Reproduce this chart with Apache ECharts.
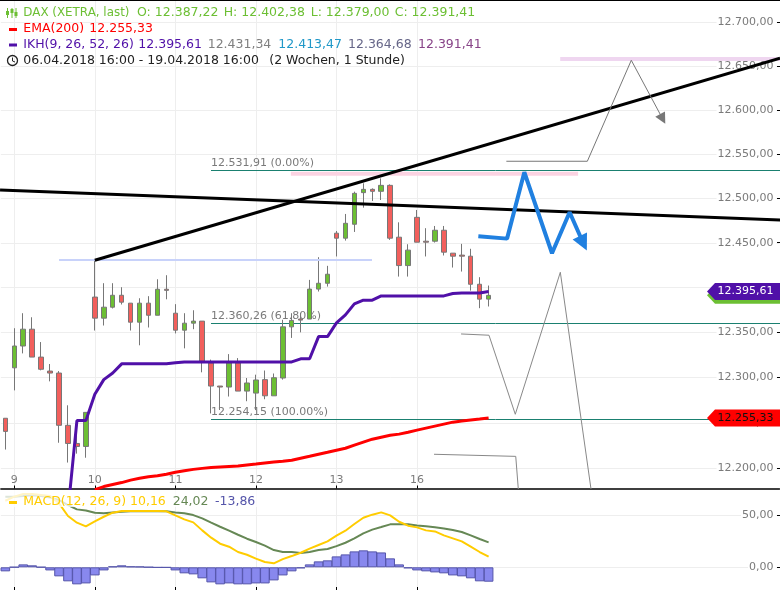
<!DOCTYPE html>
<html>
<head>
<meta charset="utf-8">
<style>html,body{margin:0;padding:0;background:#fff}#chart{width:780px;height:590px}</style>
<script src="https://cdn.jsdelivr.net/npm/echarts@6/dist/echarts.min.js"></script>
</head>
<body>
<div id="chart"></div>
<script>
// hourly slots, the axis runs on past the last candle
var slotCount = 87;
var dayLabels = ["9", "10", "11", "12", "13", "16"];
var dayStarts = [1, 10, 19, 28, 37, 46];
var priceTicks = [12200, 12250, 12300, 12350, 12400, 12450, 12500, 12550, 12600, 12650, 12700];
var macdTicks = [0, 50];

var opens = [12255, 12310.8, 12335, 12353.7, 12322.7, 12307.2, 12305, 12247.2, 12227.2, 12223.9, 12389.5, 12366, 12378.2, 12391.5, 12382.7, 12361.5, 12382.7, 12369.2, 12398.2, 12371.5, 12352.6, 12360.4, 12362.7, 12316.2, 12290.6, 12289.5, 12316.2, 12285, 12282.8, 12297.7, 12279.8, 12299.5, 12356.3, 12365, 12365, 12398.4, 12404.9, 12461, 12455.4, 12471, 12506.6, 12510.3, 12508.1, 12514.8, 12456.5, 12424.7, 12478.8, 12452, 12452, 12464.3, 12438.6, 12436.4, 12435.2, 12403.8, 12387.22];
var closes = [12240.5, 12335, 12353.7, 12322.7, 12309.2, 12305, 12247.2, 12227.2, 12223.9, 12261.5, 12366, 12378.2, 12391.5, 12383.8, 12361.5, 12382.7, 12369.2, 12398.2, 12397, 12352.6, 12360.4, 12362.7, 12318, 12290.6, 12289.5, 12316.2, 12285, 12294, 12297.3, 12279.8, 12299.8, 12356.3, 12363.5, 12363.8, 12398.4, 12404.9, 12415, 12455.4, 12472.1, 12505.8, 12510.3, 12508.1, 12514.8, 12455.4, 12424.7, 12442, 12450.9, 12450.9, 12464.3, 12439.7, 12435.2, 12435.2, 12403.8, 12387.2, 12391.41];
var lows = [12220.5, 12285.8, 12326.8, 12322.7, 12308, 12295.8, 12228, 12206.2, 12216, 12211.5, 12352.2, 12357.8, 12376.8, 12381.2, 12352.2, 12335.8, 12355.6, 12369.2, 12387, 12349, 12332.4, 12353.7, 12305.8, 12260.3, 12264.1, 12279, 12285, 12273.8, 12264, 12276, 12279.8, 12297.7, 12344, 12350.2, 12365, 12395.7, 12401.2, 12434.9, 12452.7, 12462.4, 12489.7, 12497.2, 12498.3, 12453.5, 12412.4, 12412.4, 12450.9, 12434.9, 12450.5, 12436, 12422.5, 12418, 12396.7, 12377.1, 12379];
var highs = [12255, 12354.8, 12371.5, 12367, 12339.4, 12315, 12307.2, 12269.3, 12253, 12261.5, 12431, 12405, 12405, 12400.5, 12382.7, 12388.2, 12390.5, 12409.4, 12413.9, 12381.6, 12371.5, 12374.8, 12362.7, 12319.9, 12290.6, 12326, 12321.6, 12299.5, 12303.2, 12307.8, 12304.5, 12364.2, 12371.5, 12371.5, 12408.7, 12434.1, 12424.4, 12463.5, 12482.6, 12507.7, 12517.1, 12511.4, 12522.7, 12515.9, 12473.2, 12448.6, 12487.1, 12466.6, 12469.1, 12469.1, 12438.6, 12449, 12443.5, 12411.7, 12402.38];

var ikh = [null, null, null, null, null, null, null, 12153, 12252.4, 12252.4, 12281.6, 12297.7, 12305, 12315.2, 12315.2, 12315.2, 12315.2, 12315.2, 12315.2, 12316.3, 12317.3, 12317.3, 12317.3, 12317.3, 12317.3, 12317.3, 12317.3, 12317.3, 12317.3, 12317.3, 12317.3, 12317.3, 12317.3, 12320.8, 12320.8, 12345.5, 12345.5, 12360.7, 12369.6, 12381.9, 12386, 12386, 12390.8, 12390.8, 12390.8, 12390.8, 12390.8, 12390.8, 12390.8, 12390.8, 12393.5, 12394.1, 12394.1, 12394.1, 12395.61];
var ema = [null, null, null, null, null, null, null, null, null, null, 12176.5, 12179.8, 12182, 12184.2, 12186.9, 12189, 12190.6, 12191.7, 12193.4, 12195.5, 12197.1, 12198.7, 12199.8, 12200.8, 12201.4, 12201.9, 12202.4, 12203.5, 12204.5, 12205.6, 12206.7, 12207.7, 12208.8, 12211, 12213.1, 12215.4, 12217.5, 12219.8, 12221.9, 12225.3, 12228.6, 12231.9, 12234.1, 12236.3, 12237.5, 12239.6, 12241.9, 12244.1, 12246.3, 12248.5, 12250.7, 12251.9, 12253, 12254.1, 12255.33];

var macd = [64, 67.9, 70.4, 70.4, 69.5, 68.5, 61.5, 49.3, 42.9, 39.3, 44.2, 48.6, 52.5, 54.1, 54.1, 54.1, 54.1, 54.1, 53.8, 49.9, 46.1, 43.2, 35.5, 28.5, 22.7, 19.8, 14.7, 12.1, 8.3, 5.1, 3.8, 7.9, 10.8, 14, 17.9, 21.4, 24.9, 30.4, 35.2, 41.6, 47.7, 50.6, 52.8, 49.9, 43.8, 40, 38.4, 35.5, 34.5, 30.7, 27.8, 24.9, 19.8, 14.7, 10.16];
var signal = [67.9, 67.9, 68.5, 69.2, 68.5, 67.2, 64.7, 59.9, 55.7, 54.7, 52.5, 51.9, 52.8, 53.5, 53.8, 53.8, 53.8, 53.8, 53.8, 52.8, 51.9, 50.2, 47, 42.9, 39, 35.2, 31.3, 27.5, 24.3, 20.8, 16.6, 14.7, 14.7, 13.7, 14.7, 16.6, 17.6, 20.4, 23.6, 27.8, 32.6, 36.2, 38.7, 41.3, 41.3, 41.3, 40.3, 39.4, 38.4, 37.4, 35.8, 33.9, 30.7, 27.2, 24.02];
var histogram = [-3.9, 0.2, 2.8, 1.9, 0.2, -3, -8.7, -13.5, -16.4, -15.5, -7.8, -3, 0.9, 1.9, 0.9, 0.7, 0.2, -0.2, -0.2, -3, -5.8, -6.8, -10.6, -14.5, -16.4, -15.5, -16.4, -16.4, -15.5, -15.5, -12.6, -7.8, -3.9, -1, 2.8, 5.7, 6.7, 10.5, 12.4, 15.3, 16.3, 15.3, 14.3, 8.6, 2.8, -1, -3, -3.9, -4.9, -5.8, -7.8, -8.7, -10.6, -13.5, -13.86];

// hand drawn tools: [slot, price]
var trendUp = [[10, 12430.7], [86.56, 12658.9]];
var trendDown = [[-0.59, 12509.6], [86.56, 12475.9]];
var supportLine = [[6, 12431], [40.97, 12431]];
var pinkLow = [[31.9, 12528], [64, 12528]];
var pinkHigh = [[62, 12658], [86.56, 12658]];
var bluePath = [[52.85, 12457.6], [56.06, 12454.9], [57.99, 12529.6], [61.08, 12438.5], [63.05, 12484.5], [64.58, 12449.7]];
var grayUpper = [[55.98, 12542], [65.03, 12542], [69.94, 12656.6], [73.45, 12589.9]];
var grayMiddle = [[50.92, 12348.4], [54.04, 12347], [56.98, 12259.4], [62.01, 12417.2], [65.77, 12154.2]];
var grayLower = [[47.9, 12215.3], [57.03, 12213], [57.5, 12154.2]];
var fibPrices = [12531.91, 12360.26, 12254.15];
var fibLabels = ["12.531,91 (0.00%)", "12.360,26 (61.80%)", "12.254,15 (100.00%)"];

var tagValues = [12391.41, 12395.61, 12255.33];
var tagFill = ["#6cbf33", "#5010a8", "#ff0000"];
var tagText = ["#6cbf33", "#ffffff", "#111111"];

function deNum(v) {
  var s = v.toFixed(2).replace(".", ",");
  return s.replace(/^(-?\d+)(\d{3}),/, "$1.$2,");
}

var categories = [];
for (var i = 0; i < slotCount; i++) categories.push(i);

var candles = opens.map(function (o, i) {
  return [o, closes[i], lows[i], highs[i]];
});

var gridColor = "#eeeeee";
var textGray = "#7a7a7a";

function toolLine(data, color, width, extra) {
  return Object.assign({
    type: "line", xAxisIndex: 1, yAxisIndex: 0, data: data, symbol: "none", z: 6,
    lineStyle: { color: color, width: width }, silent: true, animation: false
  }, extra || {});
}

function arrowEnd(path, size, rotate, color) {
  return path.map(function (p, i) {
    if (i < path.length - 1) return { value: p, symbol: "none" };
    return { value: p, symbol: "triangle", symbolSize: size, symbolRotate: rotate, itemStyle: { color: color } };
  });
}

// small black ticks at the right edge of a value scale
function edgeTicks(xAxisIndex, yAxisIndex, ticks) {
  return {
    type: "custom", xAxisIndex: xAxisIndex, yAxisIndex: yAxisIndex, z: 5, clip: false, silent: true,
    data: ticks.map(function (t) { return [86.5, t]; }),
    encode: { x: 0, y: 1 },
    renderItem: function (params, api) {
      var y = Math.floor(api.coord([api.value(0), api.value(1)])[1]) + 0.5;
      return { type: "line", shape: { x1: 777, y1: y, x2: 780, y2: y }, style: { stroke: "#000000", lineWidth: 1 } };
    }
  };
}

var series = [
  // fibonacci levels sit under the candles
  { type: "custom", xAxisIndex: 1, yAxisIndex: 0, z: 2, silent: true,
    data: fibPrices.map(function (p, i) { return [22.98, p, i]; }),
    encode: { x: 0, y: 1 },
    renderItem: function (params, api) {
      var pt = api.coord([api.value(0), api.value(1)]);
      var y = Math.floor(pt[1] + 0.2) + 0.5;
      return {
        type: "group",
        children: [
          { type: "line", shape: { x1: pt[0], y1: y, x2: 780, y2: y }, style: { stroke: "#1a8070", lineWidth: 1 } },
          { type: "text", style: { text: fibLabels[api.value(2)], x: pt[0], y: y - 7.5, verticalAlign: "middle", fill: textGray, fontSize: 11, fontFamily: "DejaVu Sans" } }
        ]
      };
    } },
  { type: "candlestick", xAxisIndex: 0, yAxisIndex: 0, data: candles, barWidth: 5, z: 3,
    itemStyle: { color: "#6cbf33", color0: "#f25f5c", borderColor: "#777777", borderColor0: "#777777", borderColorDoji: "#777777", borderWidth: 1 } },
  { type: "line", xAxisIndex: 0, yAxisIndex: 0, data: ema, symbol: "none", z: 4, lineStyle: { color: "#ff0000", width: 3 } },
  { type: "line", xAxisIndex: 0, yAxisIndex: 0, data: ikh, symbol: "none", z: 4, lineStyle: { color: "#5010a8", width: 3 } },
  toolLine(supportLine, "#c8d2fa", 2),
  toolLine(pinkLow, "#fbd3e2", 4),
  toolLine(pinkHigh, "#efd6f0", 4, { clip: false }),
  toolLine(trendUp, "#000000", 3, { clip: false }),
  toolLine(trendDown, "#000000", 3, { clip: false }),
  toolLine(arrowEnd(grayUpper, 11, 208, "#777777"), "#777777", 1, { symbol: "circle", showSymbol: true }),
  toolLine(grayMiddle, "#888888", 1),
  toolLine(grayLower, "#888888", 1),
  toolLine(arrowEnd(bluePath, 16, 206, "#2080e0"), "#2080e0", 4, { symbol: "circle", showSymbol: true, z: 7 }),
  { type: "bar", xAxisIndex: 2, yAxisIndex: 1, data: histogram, barWidth: 9.6, z: 3,
    itemStyle: { color: "#8888ee", borderColor: "#5555aa", borderWidth: 1 } },
  { type: "line", xAxisIndex: 2, yAxisIndex: 1, data: signal, symbol: "none", z: 4, lineStyle: { color: "#668855", width: 2 } },
  { type: "line", xAxisIndex: 2, yAxisIndex: 1, data: macd, symbol: "none", z: 4, lineStyle: { color: "#ffcc00", width: 2 } },
  edgeTicks(1, 0, priceTicks),
  edgeTicks(3, 1, macdTicks)
];

// price tags on the right edge, hung on the price scale
series.push({
  type: "custom", xAxisIndex: 1, yAxisIndex: 0, z: 8, clip: false, silent: true,
  data: tagValues.map(function (v, i) { return [86.5, v, i]; }),
  encode: { x: 0, y: 1 },
  renderItem: function (params, api) {
    var pt = api.coord([api.value(0), api.value(1)]);
    var n = api.value(2);
    var y = pt[1], h = 8.5;
    return {
      type: "group",
      children: [
        { type: "polygon", shape: { points: [[707, y], [715, y - h], [780, y - h], [780, y + h], [715, y + h]] }, style: { fill: tagFill[n] } },
        { type: "text", style: { text: deNum(tagValues[n]), x: 773.5, y: y, align: "right", verticalAlign: "middle", fill: tagText[n], fontSize: 11, fontFamily: "DejaVu Sans" } }
      ]
    };
  }
});

// header texts: text, x, y, colour, size
var green = "#6cbf33", purple = "#5010a8";
var headerRows = [
  ["DAX (XETRA, last)", 23.3, 12.7, green, 11.9], ["O: 12.387,22", 137, 12.7, green], ["H: 12.402,38", 223.7, 12.7, green], ["L: 12.379,00", 310.7, 12.7, green], ["C: 12.391,41", 394.7, 12.7, green],
  ["EMA(200)", 23.3, 28.7, "#ff0000"], ["12.255,33", 89.3, 28.7, "#ff0000"],
  ["IKH(9, 26, 52, 26)", 23.3, 44.5, purple], ["12.395,61", 138.3, 44.5, purple], ["12.431,34", 207.7, 44.5, "#808080"], ["12.413,47", 278.3, 44.5, "#2098c8"], ["12.364,68", 348, 44.5, "#666688"], ["12.391,41", 418, 44.5, "#884488"],
  ["06.04.2018 16:00 - 19.04.2018 16:00", 23.3, 60.5, "#222222"], ["(2 Wochen, 1 Stunde)", 269.3, 60.5, "#222222"],
  ["MACD(12, 26, 9)", 23.3, 501.7, "#ffcc00"], ["10,16", 130, 501.7, "#ffcc00"], ["24,02", 172.7, 501.7, "#668855"], ["-13,86", 215, 501.7, "#5555aa"]
];

var graphics = [
  { type: "rect", shape: { x: 0, y: 0, width: 780, height: 1 }, style: { fill: "#000000" }, z: 20 },
  { type: "rect", shape: { x: 0, y: 490, width: 258, height: 17 }, style: { fill: "rgba(255,255,255,0.78)" }, z: 20 },
  { type: "rect", shape: { x: 9, y: 28, width: 8, height: 3 }, style: { fill: "#ff0000" }, z: 21 },
  { type: "rect", shape: { x: 9, y: 43.5, width: 8, height: 3 }, style: { fill: purple }, z: 21 },
  { type: "rect", shape: { x: 9, y: 501, width: 8, height: 3 }, style: { fill: "#ffcc00" }, z: 21 },
  { type: "circle", shape: { cx: 12.5, cy: 60.5, r: 5 }, style: { fill: "none", stroke: "#222222", lineWidth: 1.3 }, z: 21 },
  { type: "polyline", shape: { points: [[12.5, 57.5], [12.5, 61], [15, 62]] }, style: { fill: "none", stroke: "#222222", lineWidth: 1 }, z: 21 }
];
[[7.5, 8, 18, 11, 15], [12, 8, 18, 9, 13], [16, 8, 18, 12, 16]].forEach(function (c) {
  graphics.push({ type: "line", shape: { x1: c[0], y1: c[1], x2: c[0], y2: c[2] }, style: { stroke: green, lineWidth: 1 }, z: 21 });
  graphics.push({ type: "rect", shape: { x: c[0] - 1.5, y: c[3], width: 3, height: c[4] - c[3] }, style: { fill: green }, z: 21 });
});
headerRows.forEach(function (r) {
  graphics.push({ type: "text", z: 21, style: { text: r[0], x: r[1], y: r[2], fill: r[3], verticalAlign: "middle", fontSize: r[4] || 12.5, fontFamily: "DejaVu Sans" } });
});

function slotAxis(gridIndex, labels) {
  return {
    type: "value", gridIndex: gridIndex, min: -0.5, max: 86.5, position: "bottom",
    axisLine: { show: gridIndex === 0, onZero: false, lineStyle: { color: "#000000", width: 1.5 } },
    axisTick: { show: true, inside: true, length: 3, customValues: dayStarts, lineStyle: { color: "#000000", width: 1 } },
    axisLabel: labels ? {
      show: true, inside: true, margin: 3, customValues: dayStarts, color: textGray, fontSize: 11, fontFamily: "DejaVu Sans",
      formatter: function (v) { return dayLabels[dayStarts.indexOf(v)]; }
    } : { show: false },
    splitLine: { show: true, lineStyle: { color: gridColor, width: 1 } }
  };
}

function hiddenBands(gridIndex) {
  return { type: "category", gridIndex: gridIndex, data: categories, show: false, boundaryGap: true };
}

function valueAxis(gridIndex, type, min, max, ticks) {
  return {
    type: type, gridIndex: gridIndex, position: "right", min: min, max: max, scale: true,
    axisLine: { show: false },
    axisTick: { show: false, customValues: ticks },
    axisLabel: {
      show: true, inside: true, margin: 3, customValues: ticks, color: textGray, fontSize: 11, fontFamily: "DejaVu Sans",
      backgroundColor: "#ffffff", padding: [2, 3, 0, 1],
      formatter: function (v) { return deNum(v); }
    },
    splitLine: { show: true, lineStyle: { color: gridColor, width: 1 } },
    minorTick: { show: false }, minorSplitLine: { show: false }
  };
}

var chart = echarts.init(document.getElementById("chart"));
chart.setOption({
  animation: false,
  backgroundColor: "#ffffff",
  grid: [
    { left: 0.85, width: 778.65, top: 0, height: 488.5, borderWidth: 0 },
    { left: 0.85, width: 778.65, top: 488.5, height: 101.5, borderWidth: 0 }
  ],
  xAxis: [hiddenBands(0), slotAxis(0, true), hiddenBands(1), slotAxis(1, false)],
  yAxis: [
    valueAxis(0, "log", 12177.7, 12725.5, priceTicks),
    valueAxis(1, "value", -21.83, 75.77, macdTicks)
  ],
  graphic: graphics,
  series: series
});
</script>
</body>
</html>
